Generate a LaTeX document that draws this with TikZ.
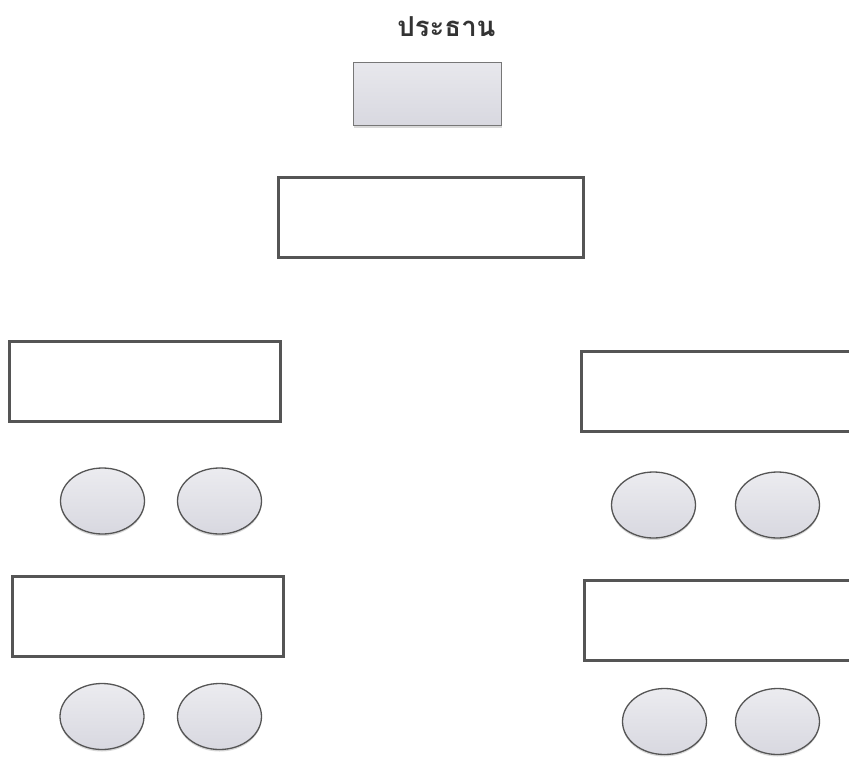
\documentclass[tikz,border=0pt]{standalone}
\usepackage{fontspec}
\newfontfamily\thaifont[Script=Thai]{Loma}
\usetikzlibrary{shadows,shapes.geometric}
\definecolor{edgegray}{RGB}{85,85,85}
\definecolor{fillgray}{RGB}{216,216,224}

\begin{document}
\begin{tikzpicture}[x=1pt,y=-1pt,
  rectbox/.style={draw=edgegray,line width=3pt,fill=white,minimum width=271pt,minimum height=80pt,inner sep=0pt},
  chairbox/.style={draw=edgegray!80,line width=1.2pt,top color=fillgray!60,bottom color=fillgray,minimum width=148pt,minimum height=63pt,inner sep=0pt,drop shadow={shadow xshift=0pt,shadow yshift=-2pt,opacity=.3}},
  seat/.style={ellipse,draw=edgegray,line width=1.3pt,top color=fillgray!50,bottom color=fillgray,minimum width=84pt,minimum height=66pt,inner sep=0pt,drop shadow={shadow xshift=0pt,shadow yshift=-2pt,opacity=.3}}]
\useasboundingbox (0,0) rectangle (849,758);
\clip (0,0) rectangle (849,758);
\node[font=\thaifont\bfseries\fontsize{27.5}{30}\selectfont,text=black!80] (title) at (446.5,26.5) {ประธาน};
\node[chairbox] (chair) at (427.5,94) {};
\node[rectbox,minimum width=305pt] (top) at (431,217.5) {};
% left side
\node[rectbox] (left1) at (145,381.5) {};
\node[seat] (l1a) at (102.5,501) {};
\node[seat] (l1b) at (219.5,501) {};
\node[rectbox] (left2) at (147.5,616.5) {};
\node[seat] (l2a) at (102,716.5) {};
\node[seat] (l2b) at (219.5,716.5) {};
% right side
\node[rectbox] (right1) at (717,391) {};
\node[seat] (r1a) at (653.5,505) {};
\node[seat] (r1b) at (777.5,505) {};
\node[rectbox] (right2) at (720,620.5) {};
\node[seat] (r2a) at (664.5,721.5) {};
\node[seat] (r2b) at (777.5,721.5) {};
\end{tikzpicture}
\end{document}
